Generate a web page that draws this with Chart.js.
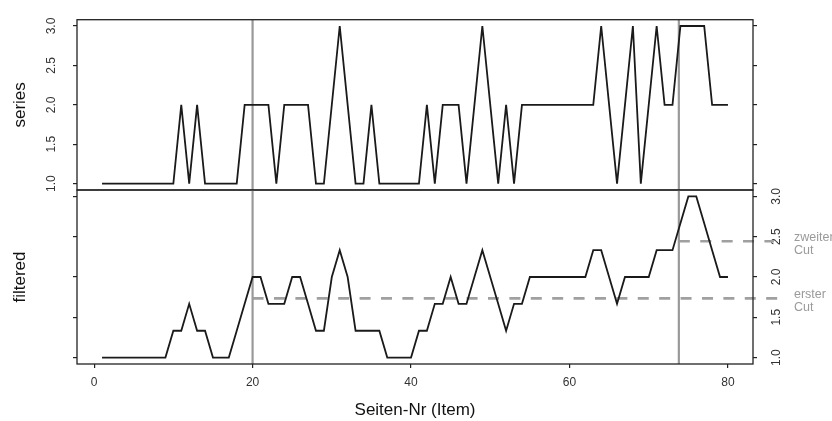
<!DOCTYPE html>
<html>
<head>
<meta charset="utf-8">
<script src="https://cdn.jsdelivr.net/npm/chart.js@4.4.1/dist/chart.umd.min.js"></script>
<style>
  html, body { margin: 0; padding: 0; background: #fff; }
  #wrap { position: relative; width: 832px; height: 421px; overflow: hidden; }
  canvas { position: absolute; left: 0; top: 0; }
</style>
</head>
<body>
<div id="wrap">
  <canvas id="seriesChart" width="832" height="421"></canvas>
  <canvas id="filteredChart" width="832" height="421"></canvas>
</div>
<script>
// ── Data ──────────────────────────────────────────────────────────────────
const items = Array.from({ length: 80 }, (_, i) => i + 1);   // Seiten-Nr 1..80

const series = [
  1, 1, 1, 1, 1, 1, 1, 1, 1, 1,
  2, 1, 2, 1, 1, 1, 1, 1, 2, 2,
  2, 2, 1, 2, 2, 2, 2, 1, 1, 2,
  3, 2, 1, 1, 2, 1, 1, 1, 1, 1,
  1, 2, 1, 2, 2, 2, 1, 2, 3, 2,
  1, 2, 1, 2, 2, 2, 2, 2, 2, 2,
  2, 2, 2, 3, 2, 1, 2, 3, 1, 2,
  3, 2, 2, 3, 3, 3, 3, 2, 2, 2
];

const filtered = [
  1, 1, 1, 1, 1, 1, 1, 1, 1, 1.333,
  1.333, 1.667, 1.333, 1.333, 1, 1, 1, 1.333, 1.667, 2,
  2, 1.667, 1.667, 1.667, 2, 2, 1.667, 1.333, 1.333, 2,
  2.333, 2, 1.333, 1.333, 1.333, 1.333, 1, 1, 1, 1,
  1.333, 1.333, 1.667, 1.667, 2, 1.667, 1.667, 2, 2.333, 2,
  1.667, 1.333, 1.667, 1.667, 2, 2, 2, 2, 2, 2,
  2, 2, 2.333, 2.333, 2, 1.667, 2, 2, 2, 2,
  2.333, 2.333, 2.333, 2.667, 3, 3, 2.667, 2.333, 2, 2
];

const yTicks = [1.0, 1.5, 2.0, 2.5, 3.0];
const xTicks = [0, 20, 40, 60, 80];

const cutItems = [20, 73.8];          // vertical grey lines
const cutLevels = [1.735, 2.443];     // horizontal dashed cuts
const cutEnds = [87.4, 85.8];
const cutLabels = [['erster', 'Cut'], ['zweiter', 'Cut']];

const xMin = -2.16, xMax = 83.16;
const yMin = 0.92, yMax = 3.08;

// ── Shared style ──────────────────────────────────────────────────────────
const FONT = "'Liberation Sans', Arial, Helvetica, sans-serif";
Chart.defaults.font.family = FONT;
Chart.defaults.color = '#222';

const pts = vals => items.map((x, i) => ({ x, y: vals[i] }));
const setTicks = list => scale => { scale.ticks = list.map(v => ({ value: v })); };

const panelBox = {
  id: 'panelBox',
  afterDatasetsDraw(chart) {
    const { ctx, chartArea: a } = chart;
    ctx.save();
    ctx.strokeStyle = '#222';
    ctx.lineWidth = 1.3;
    ctx.strokeRect(a.left, a.top, a.right - a.left, a.bottom - a.top);
    ctx.restore();
  }
};

const cutText = {
  id: 'cutText',
  afterDraw(chart) {
    const { ctx } = chart;
    const y = chart.scales.y;
    ctx.save();
    ctx.fillStyle = '#9a9a9a';
    ctx.font = '12.5px ' + FONT;
    ctx.textAlign = 'left';
    ctx.textBaseline = 'middle';
    cutLevels.forEach((lvl, i) => {
      const py = y.getPixelForValue(lvl);
      ctx.fillText(cutLabels[i][0], 794, py - 4);
      ctx.fillText(cutLabels[i][1], 794, py + 9.5);
    });
    ctx.restore();
  }
};

const tickGrid = { drawOnChartArea: false, drawTicks: true, tickLength: 4, color: '#222', lineWidth: 1.2 };
const rotLabels = pad => ({
  minRotation: 90, maxRotation: 90, crossAlign: 'center', padding: pad,
  font: { size: 12 }, color: '#333', callback: v => Number(v).toFixed(1)
});

const vLines = cutItems.map(c => ({
  data: [{ x: c, y: yMin }, { x: c, y: yMax }],
  borderColor: '#999', borderWidth: 2.2, pointRadius: 0
}));

// ── Top panel: series ─────────────────────────────────────────────────────
new Chart(document.getElementById('seriesChart'), {
  type: 'line',
  data: {
    datasets: [
      { data: pts(series), borderColor: '#1a1a1a', borderWidth: 1.8, pointRadius: 0, tension: 0 },
      ...vLines
    ]
  },
  options: {
    responsive: false,
    animation: false,
    devicePixelRatio: 1,
    layout: { padding: { top: 14, bottom: 231, left: 0, right: 0 } },
    plugins: { legend: { display: false }, tooltip: { enabled: false } },
    scales: {
      x: { type: 'linear', min: xMin, max: xMax, display: false },
      y: {
        position: 'left', min: yMin, max: yMax,
        afterBuildTicks: setTicks(yTicks),
        afterFit: s => { s.width = 77; },
        ticks: rotLabels(12.5),
        grid: tickGrid,
        border: { display: false },
        title: { display: true, text: 'series', font: { size: 17 }, color: '#111', padding: { top: 10 } }
      },
      yr: {
        position: 'right', min: yMin, max: yMax,
        afterBuildTicks: setTicks(yTicks),
        afterFit: s => { s.width = 79; },
        ticks: { display: false },
        grid: tickGrid,
        border: { display: false }
      }
    }
  },
  plugins: [panelBox]
});

// ── Bottom panel: filtered ────────────────────────────────────────────────
new Chart(document.getElementById('filteredChart'), {
  type: 'line',
  data: {
    datasets: [
      { data: pts(filtered), borderColor: '#1a1a1a', borderWidth: 1.8, pointRadius: 0, tension: 0 },
      ...vLines,
      ...cutLevels.map((lvl, i) => ({
        data: [{ x: cutItems[i], y: lvl }, { x: cutEnds[i], y: lvl }],
        borderColor: '#a0a0a0', borderWidth: 2.6, borderDash: [11, 10.4],
        pointRadius: 0, clip: false
      }))
    ]
  },
  options: {
    responsive: false,
    animation: false,
    devicePixelRatio: 1,
    layout: { padding: { top: 190, bottom: 0, left: 0, right: 0 } },
    plugins: { legend: { display: false }, tooltip: { enabled: false } },
    scales: {
      x: {
        type: 'linear', position: 'bottom', min: xMin, max: xMax,
        afterBuildTicks: setTicks(xTicks),
        afterFit: s => { s.height = 57; },
        ticks: { padding: 7, font: { size: 12 }, color: '#333', maxRotation: 0 },
        grid: tickGrid,
        border: { display: false },
        title: { display: true, text: 'Seiten-Nr (Item)', font: { size: 17 }, color: '#111', padding: { top: 0, bottom: 0 } }
      },
      y: {
        position: 'left', min: yMin, max: yMax,
        afterBuildTicks: setTicks(yTicks),
        afterFit: s => { s.width = 77; },
        ticks: { display: false },
        grid: tickGrid,
        border: { display: false },
        title: { display: true, text: 'filtered', font: { size: 17 }, color: '#111', padding: { top: 10 } }
      },
      yr: {
        position: 'right', min: yMin, max: yMax,
        afterBuildTicks: setTicks(yTicks),
        afterFit: s => { s.width = 79; },
        ticks: rotLabels(11.7),
        grid: tickGrid,
        border: { display: false }
      }
    }
  },
  plugins: [panelBox, cutText]
});
</script>
</body>
</html>
